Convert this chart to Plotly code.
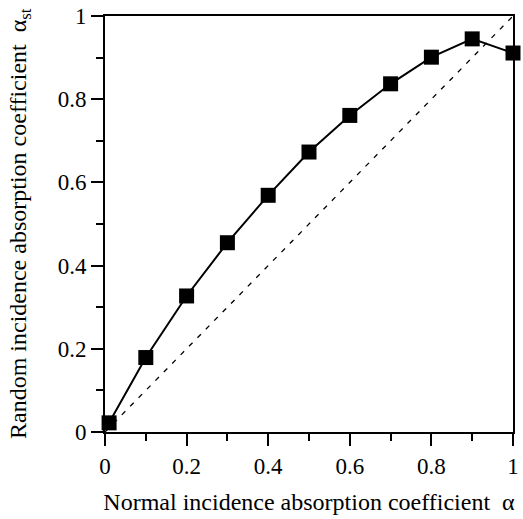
import plotly.graph_objects as go

normal_alpha = [0.01, 0.1, 0.2, 0.3, 0.4, 0.5, 0.6, 0.7, 0.8, 0.9, 1.0]
random_alpha = [0.022, 0.179, 0.327, 0.455, 0.569, 0.673, 0.761, 0.837, 0.901, 0.945, 0.911]
diag_x = [0, 1]
diag_y = [0, 1]
tick_vals = [0, 0.2, 0.4, 0.6, 0.8, 1]
tick_text = ["0", "0.2", "0.4", "0.6", "0.8", "1"]

font_family = "Liberation Serif, Times New Roman, serif"

fig = go.Figure()
fig.add_trace(go.Scatter(
    x=diag_x, y=diag_y, mode="lines",
    line=dict(color="black", width=1.3, dash="5px,7px"),
    showlegend=False, hoverinfo="skip"))
fig.add_trace(go.Scatter(
    x=normal_alpha, y=random_alpha, mode="lines+markers",
    line=dict(color="black", width=2),
    marker=dict(symbol="square", size=15, color="black"),
    cliponaxis=False, showlegend=False))

axis_common = dict(
    range=[0, 1], tickvals=tick_vals, ticktext=tick_text,
    showline=True, linecolor="black", linewidth=2, mirror=True,
    ticks="outside", ticklen=12, tickwidth=1.5, tickcolor="black",
    showgrid=False, zeroline=False,
    tickfont=dict(family=font_family, size=23, color="black"),
    minor=dict(dtick=0.1, tick0=0, ticks="outside", ticklen=7, tickwidth=1.5, tickcolor="black", showgrid=False),
)

fig.update_layout(
    width=523, height=519,
    margin=dict(l=105, r=4, t=15, b=87),
    plot_bgcolor="white", paper_bgcolor="white",
    font=dict(family=font_family, color="black"),
    xaxis=dict(**axis_common,
               title=dict(text="Normal incidence absorption coefficient  α",
                          font=dict(family=font_family, size=24, color="black"), standoff=16)),
    yaxis=dict(**axis_common),
    annotations=[dict(
        text="Random incidence absorption coefficient  α<sub>st</sub>",
        xref="paper", yref="paper", x=0, y=0.5, xshift=-85,
        xanchor="center", yanchor="middle", textangle=-90, showarrow=False,
        font=dict(family=font_family, size=24, color="black"))],
)

fig.write_html("out.html")
